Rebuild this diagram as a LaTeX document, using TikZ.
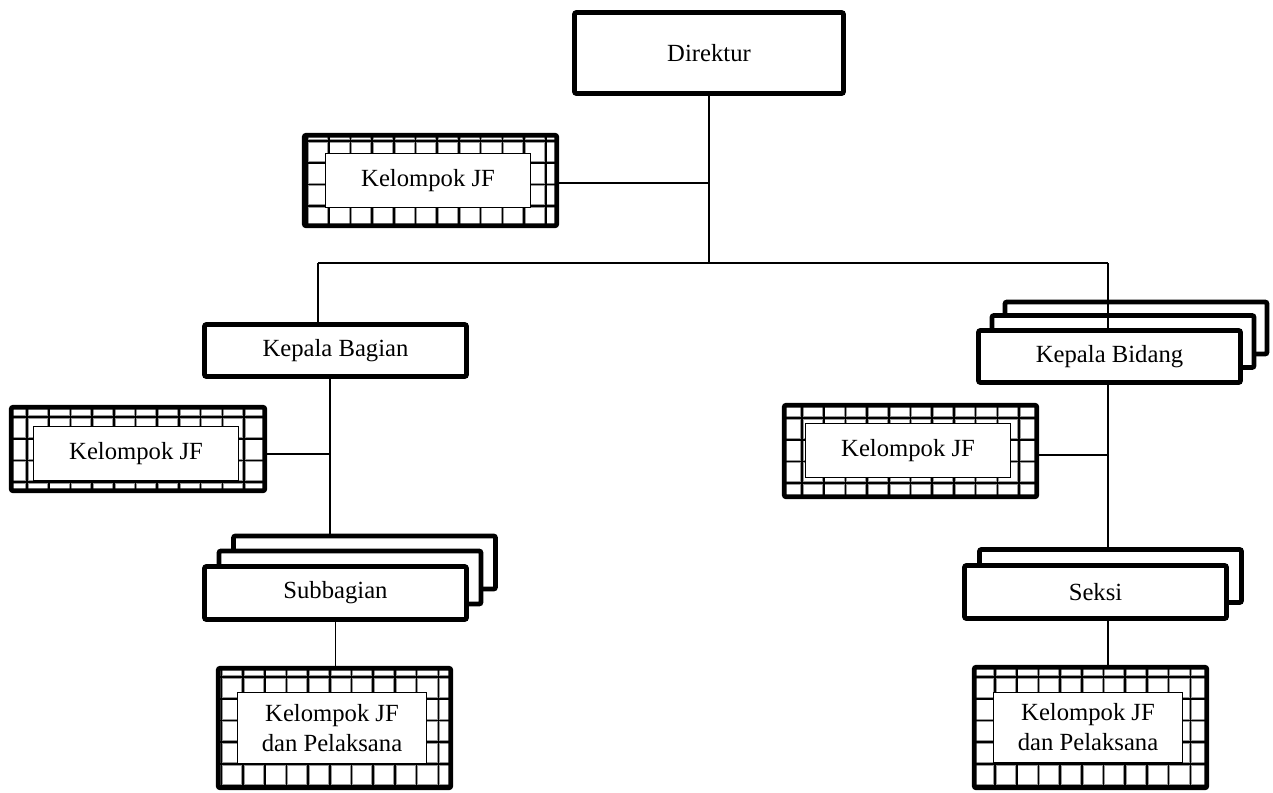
\documentclass[tikz,border=0pt]{standalone}
\usepackage{fontspec}
\setmainfont{Liberation Serif}
\newcommand\jfgrid[3]{%
  \begin{scope}
    \clip (#1.south west) rectangle (#1.north east);
    \foreach \k in {-1,...,13}{\draw[gridhalo] ({#2+\k*21.7},0) -- ({#2+\k*21.7},800);}
    \foreach \k in {-1,...,7}{\draw[gridhalo] (0,{#3+\k*21.7}) -- (1300,{#3+\k*21.7});}
    \foreach \k in {-1,...,13}{\draw[gridcore] ({#2+\k*21.7},0) -- ({#2+\k*21.7},800);}
    \foreach \k in {-1,...,7}{\draw[gridcore] (0,{#3+\k*21.7}) -- (1300,{#3+\k*21.7});}
  \end{scope}
  \draw[jfborder] (#1.south west) rectangle (#1.north east);}
\begin{document}
\begin{tikzpicture}[x=0.75pt,y=-0.75pt,
  wh/.style 2 args={minimum width=#1*0.75pt, minimum height=#2*0.75pt},
  txt/.style={font=\fontsize{18.5}{22.5}\selectfont},
  orgbox/.style={draw, line width=3.6pt, rounded corners=1.5pt, fill=white, inner sep=0pt, txt},
  jfout/.style={fill=white, inner sep=0pt},
  jfborder/.style={line width=3.6pt, rounded corners=1.5pt},
  jfin/.style={draw, line width=0.7pt, fill=white, inner sep=0pt, align=center, txt},
  link/.style={line width=1.1pt},
  gridhalo/.style={line width=2.6pt, black!40},
  gridcore/.style={line width=1.2pt, black}
]
\useasboundingbox (0,0) rectangle (1273,792);

% Direktur
\node[orgbox, wh={269}{81}] (dir) at (709,53) {Direktur};

% Kelompok JF (top)
\node[jfout, wh={252}{90}] (jf1) at (430.5,180.5) {};
\jfgrid{jf1}{307}{141}
\node[jfin, wh={205}{54}] (jf1t) at (428,180.5) {Kelompok JF};

% Kepala Bagian
\node[orgbox, wh={262}{52}] (kbag) at (335.5,350.5) {Kepala Bagian};

% Kepala Bidang (stacked)
\node[orgbox, wh={262}{52}] (kbid3) at (1136,328) {};
\node[orgbox, wh={262}{52}] (kbid2) at (1123,341.5) {};
\node[orgbox, wh={262}{52}] (kbid) at (1109.5,356.5) {Kepala Bidang};

% Kelompok JF (left)
\node[jfout, wh={253}{83}] (jfl) at (138,449) {};
\jfgrid{jfl}{27}{417}
\node[jfin, wh={205}{54}] (jflt) at (136,453.5) {Kelompok JF};

% Kelompok JF (right)
\node[jfout, wh={252}{91}] (jfr) at (910.5,451) {};
\jfgrid{jfr}{802}{418}
\node[jfin, wh={205}{54}] (jfrt) at (908,450.5) {Kelompok JF};

% Subbagian (stacked)
\node[orgbox, wh={262}{53}] (sub3) at (364.5,562.5) {};
\node[orgbox, wh={262}{53}] (sub2) at (350,577.5) {};
\node[orgbox, wh={262}{53}] (sub) at (335.5,593) {Subbagian};

% Seksi (stacked)
\node[orgbox, wh={262}{53}] (seksi2) at (1110.5,576) {};
\node[orgbox, wh={262}{53}] (seksi) at (1095.5,592) {Seksi};

% Kelompok JF dan Pelaksana (bottom left)
\node[jfout, wh={232}{119}] (jfbl) at (334.5,728) {};
\jfgrid{jfbl}{243}{677}
\node[jfin, wh={189}{71}] (jfblt) at (332,728) {Kelompok JF\\dan Pelaksana};

% Kelompok JF dan Pelaksana (bottom right)
\node[jfout, wh={232}{120}] (jfbr) at (1090.5,727.5) {};
\jfgrid{jfbr}{995}{677}
\node[jfin, wh={189}{70}] (jfbrt) at (1088,727.5) {Kelompok JF\\dan Pelaksana};

% connectors
\coordinate (j) at (709,263);
\coordinate (barL) at (318,263);
\coordinate (barR) at (1108,263);
\coordinate (vL) at (330,0);
\coordinate (vR) at (1108,0);
\coordinate (y1) at (0,183);
\coordinate (y2) at (0,454);
\coordinate (y3) at (0,455);

\draw[link] (dir.south) -- (j);
\draw[link] (jf1.east |- y1) -- (dir.south |- y1);
\draw[link] (barL) -- (barR);
\draw[link] (barL) -- (barL |- kbag.north);
\draw[link] (barR) -- (barR |- kbid.north);
\draw[link] (vL |- kbag.south) -- (vL |- sub3.north);
\draw[link] (jfl.east |- y2) -- (vL |- y2);
\draw[link] (sub.south) -- (sub.south |- jfbl.north);
\draw[link] (vR |- kbid.south) -- (vR |- seksi2.north);
\draw[link] (jfr.east |- y3) -- (vR |- y3);
\draw[link] (vR |- seksi.south) -- (vR |- jfbr.north);
\end{tikzpicture}
\end{document}
